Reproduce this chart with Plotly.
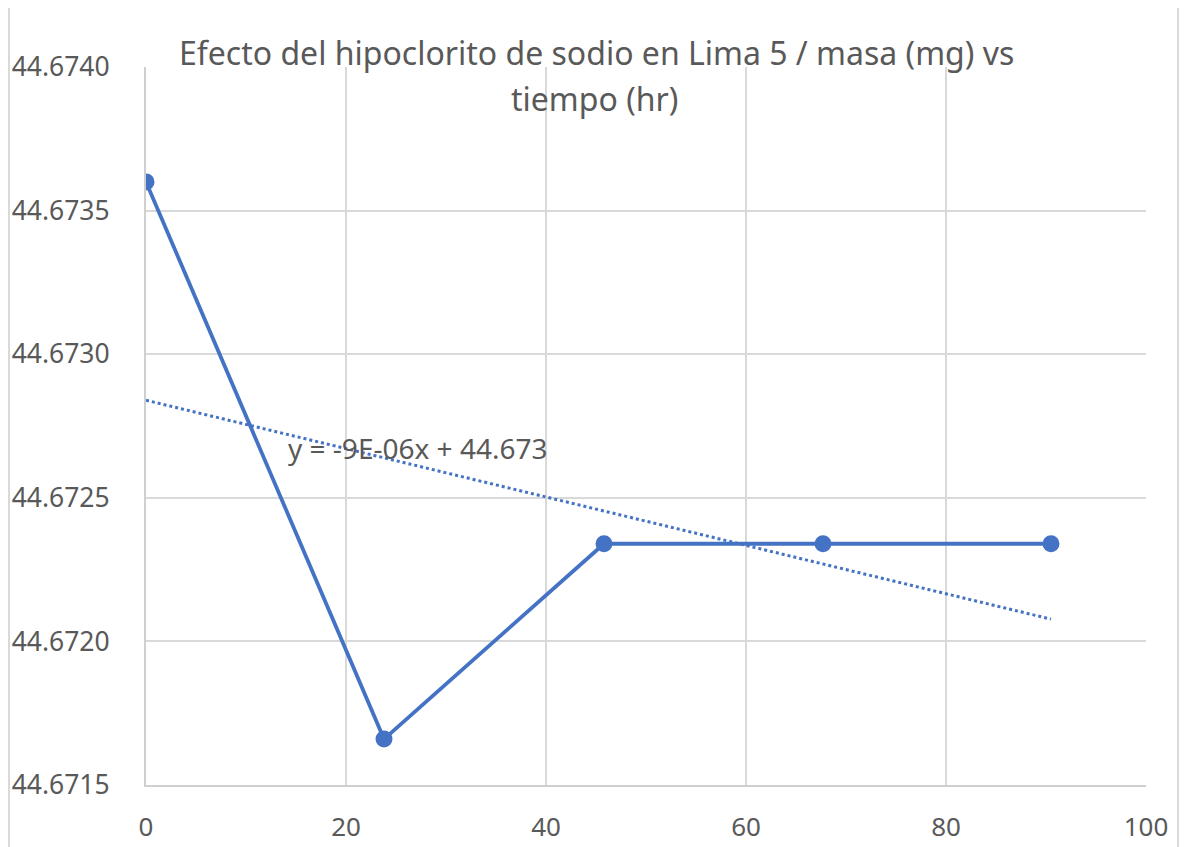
import numpy as np
import plotly.graph_objects as go

# Data
tiempo_hr = [0, 23.8, 45.8, 67.7, 90.5]
masa_mg = [44.6736, 44.67166, 44.67234, 44.67234, 44.67234]
x_ticks = [0, 20, 40, 60, 80, 100]
y_ticks = [44.6715, 44.6720, 44.6725, 44.6730, 44.6735, 44.6740]
title_lines = ["Efecto del hipoclorito de sodio en Lima 5 / masa (mg) vs", "tiempo (hr)"]
trend_label = "y = -9E-06x + 44.673"

BLUE = "#4472C4"
GREY_TXT = "#595959"
GRID = "#d9d9d9"
FONT = "Noto Sans"

# linear trendline (least squares) from the data
slope, intercept = np.polyfit(tiempo_hr, masa_mg, 1)
tx = [min(tiempo_hr), max(tiempo_hr)]
ty = [slope * v + intercept for v in tx]

fig = go.Figure()
fig.add_trace(go.Scatter(
    x=tx, y=ty, mode="lines",
    line=dict(color=BLUE, width=3, dash="dot"),
    showlegend=False, hoverinfo="skip"))
fig.add_trace(go.Scatter(
    x=tiempo_hr, y=masa_mg, mode="lines+markers",
    line=dict(color=BLUE, width=3.8),
    marker=dict(color=BLUE, size=17),
    showlegend=False))

# page body has an 8px margin; figure occupies the rest of the window
OFF = 8
W, H = 1188 - 2 * OFF, 847 - OFF
L, T = 146 - OFF, 67 - OFF
PW, PH = 1000, 718
R, B = W - L - PW, H - T - PH

def px_x(p):  # page x pixel -> paper coordinate
    return (p - OFF - L) / PW

def px_y(p):  # page y pixel -> paper coordinate
    return 1 - (p - OFF - T) / PH

fig.update_layout(
    width=W, height=H,
    margin=dict(l=L, r=R, t=T, b=B, autoexpand=False),
    paper_bgcolor="white", plot_bgcolor="white",
    font=dict(family=FONT, color=GREY_TXT, size=24),
    xaxis=dict(range=[0, 100], tickvals=x_ticks, ticktext=[str(v) for v in x_ticks],
               showgrid=True, gridcolor=GRID, gridwidth=2,
               showline=True, linecolor="#cfcfcf", linewidth=2,
               zeroline=False, ticks="", ticklabelstandoff=18, automargin=False,
               tickfont=dict(size=26, color=GREY_TXT, family=FONT)),
    yaxis=dict(range=[44.6715, 44.6740], tickvals=y_ticks, tickformat=".4f",
               showgrid=True, gridcolor=GRID, gridwidth=2,
               showline=True, linecolor="#cfcfcf", linewidth=2,
               zeroline=False, ticks="", ticklabelstandoff=29, automargin=False,
               tickfont=dict(size=26.5, color=GREY_TXT, family=FONT)),
    annotations=[
        dict(text=title_lines[0], xref="paper", yref="paper",
             x=px_x(596), y=px_y(52), xanchor="center", yanchor="middle",
             showarrow=False, font=dict(size=32, color=GREY_TXT, family=FONT)),
        dict(text=title_lines[1], xref="paper", yref="paper",
             x=px_x(594), y=px_y(98), xanchor="center", yanchor="middle",
             showarrow=False, font=dict(size=32, color=GREY_TXT, family=FONT)),
        dict(text=trend_label, xref="paper", yref="paper",
             x=px_x(286), y=px_y(448), xanchor="left", yanchor="middle",
             showarrow=False, font=dict(size=28, color=GREY_TXT, family=FONT)),
    ],
    shapes=[
        dict(type="line", xref="paper", yref="paper", x0=px_x(9), x1=px_x(9), y0=-0.2, y1=1.2,
             line=dict(color=GRID, width=2), layer="above"),
        dict(type="line", xref="paper", yref="paper", x0=px_x(1178), x1=px_x(1178), y0=-0.2, y1=1.2,
             line=dict(color=GRID, width=2), layer="above"),
    ],
)

fig.write_html("out.html")
